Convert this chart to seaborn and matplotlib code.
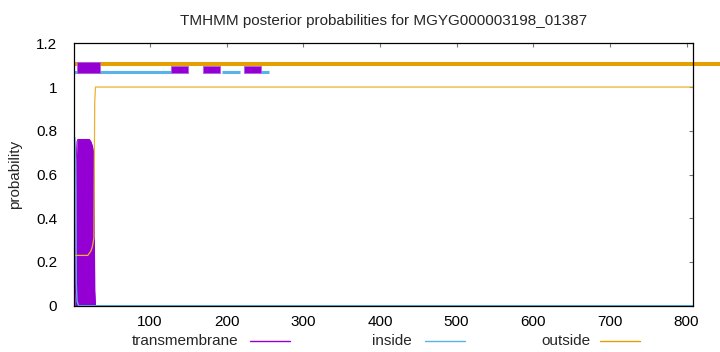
import matplotlib
matplotlib.use("Agg")
import matplotlib.pyplot as plt
import seaborn as sns
import pandas as pd
from matplotlib.lines import Line2D

# ---------------- data ----------------
title = "TMHMM posterior probabilities for MGYG000003198_01387"
seq_len = 808

positions = [1, 2, 3, 4, 5, 6, 7, 8, 9, 10,
             11, 12, 13, 14, 15, 16, 17, 18, 19, 20,
             21, 22, 23, 24, 25, 26, 27, 28, 29, 30, 808]
tm_prob = [0.0, 0.0, 0.07, 0.67, 0.75, 0.76, 0.76, 0.76, 0.76, 0.76,
           0.76, 0.76, 0.76, 0.76, 0.76, 0.76, 0.76, 0.76, 0.76, 0.76,
           0.76, 0.755, 0.75, 0.74, 0.73, 0.71, 0.69, 0.07, 0.0, 0.0, 0.0]
inside_prob = [0.77, 0.77, 0.70, 0.10, 0.02, 0.01, 0.0, 0.0, 0.0, 0.0,
               0.0, 0.0, 0.0, 0.0, 0.0, 0.0, 0.0, 0.0, 0.0, 0.0,
               0.0, 0.0, 0.0, 0.0, 0.0, 0.0, 0.0, 0.0, 0.0, 0.0, 0.0]
outside_prob = [0.23, 0.23, 0.23, 0.23, 0.23, 0.23, 0.23, 0.23, 0.23, 0.23,
                0.23, 0.23, 0.23, 0.23, 0.23, 0.23, 0.23, 0.23, 0.23, 0.235,
                0.24, 0.245, 0.25, 0.26, 0.27, 0.29, 0.31, 0.93, 1.0, 1.0, 1.0]

# topology bars at the top
tm_box_start = [4.4, 128, 169.6, 223]
tm_box_end = [34.4, 150, 192, 245]
inside_seg_start = [1, 193.5, 245]
inside_seg_end = [128, 217, 255]
outside_seg_start = [1]
outside_seg_end = [845]

x_ticks = [100, 200, 300, 400, 500, 600, 700, 800]
y_ticks = [0, 0.2, 0.4, 0.6, 0.8, 1.0, 1.2]
y_tick_labels = ["0", "0.2", "0.4", "0.6", "0.8", "1", "1.2"]
legend_labels = ["transmembrane", "inside", "outside"]

# ---------------- style ----------------
sns.set_style("white")
plt.rcParams["font.family"] = ["Liberation Sans", "DejaVu Sans"]

PURPLE = "#9400d3"
BLUE = "#56b4e9"
ORANGE = "#e69f00"
FS = 11

df = pd.DataFrame({"pos": positions, "tm": tm_prob,
                   "inside": inside_prob, "outside": outside_prob})

fig = plt.figure(figsize=(7.2, 3.52), dpi=100)
ax = fig.add_axes([74 / 720, (352 - 305.7) / 352, (692.7 - 74) / 720, (305.7 - 43.3) / 352])

# posterior curves
ax.fill_between(df["pos"], df["tm"], 0, color=PURPLE, lw=0, zorder=2)
sns.lineplot(data=df, x="pos", y="tm", color=PURPLE, lw=0.8, ax=ax, zorder=3)
sns.lineplot(data=df, x="pos", y="inside", color=BLUE, lw=1.0, ax=ax, zorder=3)
sns.lineplot(data=df, x="pos", y="outside", color="#eeb030", lw=0.9, ax=ax, zorder=3)

# topology bars
for s, e in zip(outside_seg_start, outside_seg_end):
    ax.plot([s, e], [1.107, 1.107], color=ORANGE, lw=2.9, solid_capstyle="butt",
            clip_on=False, zorder=4)
for s, e in zip(inside_seg_start, inside_seg_end):
    ax.plot([s, e], [1.068, 1.068], color=BLUE, lw=2.2, solid_capstyle="butt",
            clip_on=False, zorder=4)
for i, (s, e) in enumerate(zip(tm_box_start, tm_box_end)):
    top = 1.113 if i == 0 else 1.096
    ax.fill_between([s, e], [1.063, 1.063], [top, top], color=PURPLE, lw=0.6,
                    edgecolor="#b060e0", zorder=5)

ax.set_xlim(1, seq_len)
ax.set_ylim(0, 1.2)
ax.set_xticks(x_ticks)
ax.set_xticklabels([str(t) for t in x_ticks])
ax.set_yticks(y_ticks)
ax.set_yticklabels(y_tick_labels)
ax.tick_params(axis="both", direction="in", length=3, width=0.8, color="#777777",
               top=True, right=True, labelsize=FS, labelcolor="black")
ax.tick_params(axis="x", pad=7)
ax.tick_params(axis="y", pad=12)
for sp in ax.spines.values():
    sp.set_color("black")
    sp.set_linewidth(0.9)
    sp.set_zorder(6)

ax.set_xlabel("")
ax.set_ylabel("probability", fontsize=FS, labelpad=10)
ax.set_title(title, fontsize=FS, pad=13)

# legend (gnuplot style: text then sample line)
leg_y = 11 / 352
text_right = [238, 412, 590]
line_x0 = [250, 425, 600]
colors = [PURPLE, BLUE, ORANGE]
for lab, tr, lx, c in zip(legend_labels, text_right, line_x0, colors):
    fig.text(tr / 720, leg_y, lab, ha="right", va="center", fontsize=FS)
    fig.add_artist(Line2D([lx / 720, (lx + 40) / 720], [leg_y, leg_y],
                          color=c, lw=1.0, transform=fig.transFigure))

fig.savefig("out.png", dpi=100)
